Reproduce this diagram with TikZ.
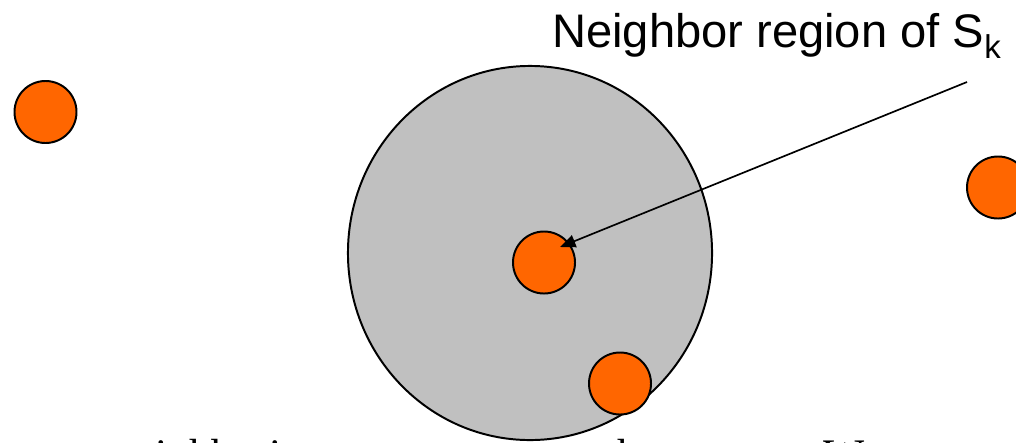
\documentclass[tikz,border=0pt]{standalone}
\usepackage{fontspec}
\setmainfont{Liberation Serif}
\setsansfont{Liberation Sans}
\usetikzlibrary{arrows.meta}
\definecolor{NodeOrange}{RGB}{255,102,0}
\definecolor{RegionGray}{RGB}{192,192,192}
\tikzset{
  sensor/.style={circle,draw=black,line width=1.4pt,fill=NodeOrange,
    minimum size=1.55cm,inner sep=0pt},
  region/.style={draw=black,line width=1.4pt,fill=RegionGray},
  bodytext/.style={anchor=base west,inner sep=0pt,
    font=\rmfamily\fontsize{31}{36}\selectfont}
}
\begin{document}
\begin{tikzpicture}[x=0.025cm,y=-0.025cm,>={Triangle[length=11pt,width=9pt]}]
  \useasboundingbox (0,0) rectangle (1016,442);
  \clip (0,0) rectangle (1016,442);
  % slide text cut off at the bottom
  \node[bodytext] (txtA) at (72,469) {at neighboring};
  \node[bodytext] (txtB) at (605,469) {the};
  \node[bodytext] (txtC) at (823,469) {We want to};
  % neighbor region
  \draw[region] (530,253) ellipse [x radius=4.55cm, y radius=4.675cm];
  % sensors
  \node[sensor] (s1) at (45.5,112) {};
  \node[sensor] (sk) at (544,262.5) {};
  \node[sensor] (s3) at (620,383.5) {};
  \node[sensor] (s4) at (998,187.5) {};
  % label and arrow
  \node[anchor=base west,inner sep=0pt,
    font=\sffamily\fontsize{33.5}{40}\selectfont] (lbl) at (552,47)
    {Neighbor region of S\textsubscript{k}};
  \coordinate (foot) at (967,82);
  \draw[->,line width=1.2pt] (foot) -- ([shift={(16,-15.5)}]sk.center);
\end{tikzpicture}
\end{document}
